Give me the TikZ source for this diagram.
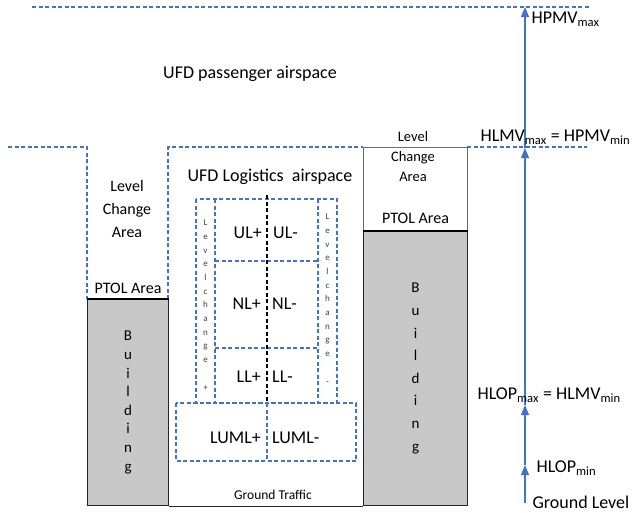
\documentclass[tikz,border=0pt]{standalone}
\usepackage{fontspec}
\setmainfont{Carlito}
\usetikzlibrary{positioning,arrows.meta}
\definecolor{lineblue}{HTML}{4472C4}
\definecolor{boxblue}{HTML}{4F6FA8}
\definecolor{bldgray}{HTML}{C8C8C8}

\begin{document}
\begin{tikzpicture}[x=1pt, y=-1pt,
    airdash/.style={draw=lineblue, line width=1.1pt, dash pattern=on 4pt off 2.5pt},
    centredash/.style={draw=black, line width=1.1pt, dash pattern=on 4pt off 2.5pt},
    building/.style={draw=black!85, fill=bldgray, line width=1.1pt, anchor=north west, inner sep=0pt, align=center},
    big/.style={font=\fontsize{18}{22}\selectfont},
    mid/.style={font=\fontsize{16}{23}\selectfont, align=center},
    small/.style={font=\fontsize{14.5}{20}\selectfont, align=center},
    tiny/.style={font=\fontsize{9}{13.7}\selectfont, align=center, inner sep=0pt, text=black!75},
    lane/.style={big, inner sep=1pt},
    level/.style={draw=lineblue, line width=1.1pt, -{Triangle[length=10pt, width=8pt]}}]
  \useasboundingbox (0,0) rectangle (632,512);

  % airspace limits
  \draw[airdash] (32,7) -- (590,7);
  \draw[airdash] (8,147) -- (87,147) -- (87,299);
  \draw[airdash] (168,299) -- (168,147) -- (363,147);
  \draw[airdash] (467,147) -- (587,147);

  % buildings
  \node[building, font=\fontsize{15}{18.6}\selectfont, minimum width=81, minimum height=206] (bldgL) at (87,299) {B\\u\\i\\l\\d\\i\\n\\g};
  \node[building, font=\fontsize{15}{22.6}\selectfont, minimum width=104, minimum height=274] (bldgR) at (363,231) {B\\u\\i\\l\\d\\i\\n\\g};
  \node[draw=boxblue, line width=1pt, minimum width=104, minimum height=84, anchor=north west, inner sep=0pt] (lcaR) at (363,147) {};
  \draw[line width=2pt] (bldgL.north west) -- (bldgL.north east);
  \draw[line width=2pt] (bldgR.north west) -- (bldgR.north east);
  \draw[black!85, line width=1.1pt] (bldgL.south east) -- (bldgR.south west);

  \node[big] (pax) at (250,74) {UFD passenger airspace};
  \node[big] (logi) at (270,177) {UFD Logistics\ \ airspace};
  \node[mid] (lcaL) at (127,209) {Level\\Change\\Area};
  \node[mid, above=2pt of bldgL] (ptolL) {PTOL Area};
  \node[small] (lcaRtxt) at (413,157) {Level\\Change\\Area};
  \node[mid, above=4pt of bldgR] (ptolR) {PTOL Area};

  % logistics lanes
  \draw[airdash] (196,199) rectangle (337,403);
  \draw[airdash] (215,199) -- (215,403) (318,199) -- (318,403);
  \draw[airdash] (215,261) -- (318,261) (215,348) -- (318,348);
  \draw[centredash] (267,195) -- (267,403);
  \draw[airdash] (176,403) rectangle (356,461);
  \draw[airdash] (267,403) -- (267,461);

  \node[lane, anchor=east] (ulp) at (263,233) {UL+};
  \node[lane, anchor=west] (ulm) at (272,233) {UL-};
  \node[lane, anchor=east] (nlp) at (262,304) {NL+};
  \node[lane, anchor=west] (nlm) at (271,304) {NL-};
  \node[lane, anchor=east] (llp) at (262,377) {LL+};
  \node[lane, anchor=west] (llm) at (271,377) {LL-};
  \node[lane, anchor=east] (lumlp) at (262,438) {LUML+};
  \node[lane, anchor=west] (lumlm) at (271,438) {LUML-};
  \node[tiny] (lcplus) at (205.5,305) {L\\e\\v\\e\\l\\c\\h\\a\\n\\g\\e\\[13.7pt]+};
  \node[tiny] (lcminus) at (327.5,299) {L\\e\\v\\e\\l\\c\\h\\a\\n\\g\\e\\[13.7pt]-};
  \node[font=\fontsize{13.5}{16}\selectfont] (ground) at (273,495) {Ground Traffic};

  % height levels
  \coordinate (gnd) at (525,503);
  \coordinate (hlopmin) at (525,465);
  \coordinate (hlopmax) at (525,405);
  \coordinate (hlmv) at (525,148);
  \coordinate (hpmv) at (525,7);
  \draw[level] (gnd) -- (hlopmin);
  \draw[level] (hlopmin) -- (hlopmax);
  \draw[level] (hlopmax) -- (hlmv);
  \draw[level] (hlmv) -- (hpmv);
  \node[big, anchor=west] (hpmvlbl) at (528,19) {HPMV\textsubscript{max}};
  \node[big, anchor=west] (hlmvlbl) at (477,137) {HLMV\textsubscript{max} = HPMV\textsubscript{min}};
  \node[big, anchor=west] (hloplbl) at (474,395) {HLOP\textsubscript{max} = HLMV\textsubscript{min}};
  \node[big, anchor=west] (hlopminlbl) at (533,468) {HLOP\textsubscript{min}};
  \node[big, anchor=west] (gndlbl) at (529,502) {Ground Level};
\end{tikzpicture}
\end{document}
